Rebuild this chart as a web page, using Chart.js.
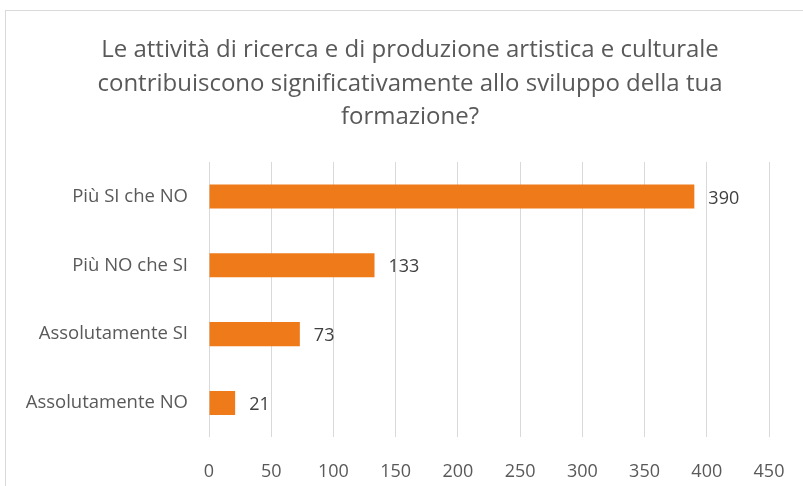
<!DOCTYPE html>
<html>
<head>
<meta charset="utf-8">
<script src="https://cdn.jsdelivr.net/npm/chart.js@4"></script>
<style>
  html, body { margin: 0; padding: 0; background: #fff; overflow: hidden; }
  #box {
    position: absolute; left: 5px; top: 10px;
    width: 840px; height: 520px;
    border-left: 1px solid #d9d9d9; border-top: 1px solid #d9d9d9;
  }
  #wrap { position: absolute; left: 0; top: 0; width: 808px; height: 497px; }
</style>
</head>
<body>
<div id="box"><div id="wrap"><canvas id="barChart"></canvas></div></div>
<script>
// categorie (dall'alto verso il basso)
var categories = ['Più SI che NO', 'Più NO che SI', 'Assolutamente SI', 'Assolutamente NO'];
// numero di risposte
var values = [390, 133, 73, 21];
// tick asse X
var xMin = 0, xMax = 450, xStep = 50;

var titleLines = [
  'Le attività di ricerca e di produzione artistica e culturale',
  'contribuiscono significativamente allo sviluppo della tua',
  'formazione?'
];

// titolo centrato su tutta la larghezza del grafico
var centeredTitle = {
  id: 'centeredTitle',
  afterDraw: function (chart) {
    var ctx = chart.ctx;
    ctx.save();
    ctx.font = '24px "Open Sans"';
    ctx.fillStyle = '#595959';
    ctx.textAlign = 'center';
    ctx.textBaseline = 'alphabetic';
    titleLines.forEach(function (line, i) {
      ctx.fillText(line, chart.width / 2, 46 + i * 33.5);
    });
    ctx.restore();
  }
};

// etichette dei valori a destra delle barre
var valueLabels = {
  id: 'valueLabels',
  afterDatasetsDraw: function (chart) {
    var ctx = chart.ctx;
    var meta = chart.getDatasetMeta(0);
    ctx.save();
    ctx.font = '18px "Open Sans"';
    ctx.fillStyle = '#404040';
    ctx.textAlign = 'left';
    ctx.textBaseline = 'middle';
    meta.data.forEach(function (bar, i) {
      ctx.fillText(values[i], bar.x + 14, bar.y + 2);
    });
    ctx.restore();
  }
};

var ctx = document.getElementById('barChart').getContext('2d');
var barChart = new Chart(ctx, {
  type: 'bar',
  data: {
    labels: categories,
    datasets: [{
      data: values,
      backgroundColor: '#ee7a1a',
      borderWidth: 0,
      categoryPercentage: 1,
      barPercentage: 0.35
    }]
  },
  options: {
    indexAxis: 'y',
    responsive: true,
    maintainAspectRatio: false,
    animation: false,
    layout: { padding: { left: 0, right: 45, top: 151, bottom: 1 } },
    plugins: {
      legend: { display: false },
      tooltip: { enabled: false },
      title: { display: false }
    },
    scales: {
      x: {
        min: xMin,
        max: xMax,
        border: { display: false },
        grid: { color: '#d9d9d9', lineWidth: 1, drawTicks: false },
        ticks: {
          stepSize: xStep,
          padding: 24,
          color: '#595959',
          font: { family: 'Open Sans', size: 18 }
        }
      },
      y: {
        border: { display: false },
        grid: { display: false },
        ticks: {
          padding: 13,
          color: '#595959',
          font: { family: 'Open Sans', size: 18.5 }
        },
        afterFit: function (scale) { scale.width = 203; }
      }
    }
  },
  plugins: [valueLabels, centeredTitle]
});
</script>
</body>
</html>
